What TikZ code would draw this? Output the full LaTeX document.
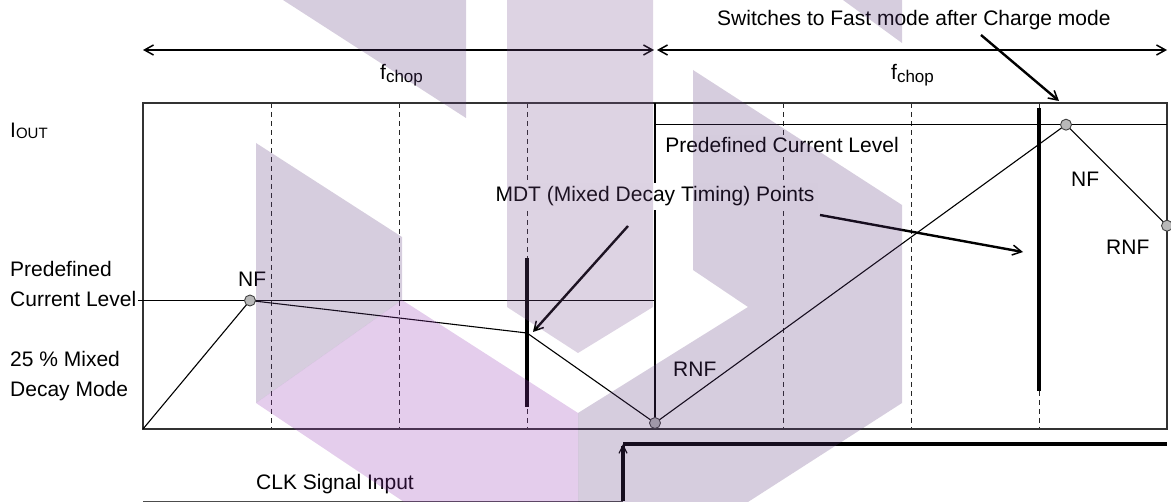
\documentclass[tikz,border=0pt]{standalone}
\usepackage{fontspec}
\setmainfont{Liberation Sans}
\usetikzlibrary{arrows.meta}
\definecolor{wmgrey}{RGB}{91,55,123}
\definecolor{wmpink}{RGB}{147,55,179}
\definecolor{wmlight}{RGB}{119,79,143}
\definecolor{boxgrey}{RGB}{50,50,50}
\newcommand{\lowtxt}[3]{\raisebox{-#3}{\fontsize{#2}{#2}\selectfont #1}}
\begin{document}
\begin{tikzpicture}[x=1pt,y=-1pt,
  every node/.style={font=\fontsize{21}{25}\selectfont, inner sep=0pt},
  lbl/.style={anchor=base west},
  boxline/.style={draw=boxgrey,line width=1.4pt},
  thinline/.style={draw=black,line width=1.1pt},
  dashline/.style={draw=black!85,line width=1pt,dash pattern=on 5pt off 4pt},
  marker/.style={draw=black,line width=4pt},
  curve/.style={draw=black,line width=1.1pt},
  dot/.style={circle,draw=black!75,fill=black!28,line width=0.9pt,minimum size=11pt,inner sep=0pt},
  >={Straight Barb[length=9pt,width=10pt,line width=1.5pt]},
  dimarrow/.style={draw=black,line width=2.4pt,<->},
  callout/.style={draw=black,line width=2.4pt,->},
  clk/.style={draw=black,line width=4pt},
  wm/.style={fill opacity=0.25, draw=none}
]
\useasboundingbox (0,0) rectangle (1171,502);

% dimension arrows
\coordinate (a1) at (143,50);
\coordinate (a2) at (654,50);
\coordinate (a3) at (657,50);
\coordinate (a4) at (1167,50);
\draw[dimarrow] (a1) -- (a2);
\draw[dimarrow] (a3) -- (a4);

% dashed grid
\foreach \xx [count=\i] in {271,399,527,783,911,1039} {
  \coordinate (dT\i) at (\xx,103);
  \coordinate (dB\i) at (\xx,429);
  \draw[dashline] (dT\i) -- (dB\i);
}

% box
\coordinate (bTL) at (143,103);
\coordinate (bBR) at (1167,429);
\draw[boxline] (bTL) rectangle (bBR);
\coordinate (dvT) at (655,103);
\coordinate (dvB) at (655,429);
\draw[thinline] (dvT) -- (dvB);

% predefined current levels
\coordinate (pl1a) at (138,300.5);
\coordinate (pl1b) at (655,300.5);
\draw[thinline] (pl1a) -- (pl1b);
\coordinate (pl2a) at (655,124.7);
\coordinate (pl2b) at (1167,124.7);
\draw[thinline] (pl2a) -- (pl2b);

% MDT markers
\coordinate (m1a) at (527,258);
\coordinate (m1b) at (527,407);
\draw[marker] (m1a) -- (m1b);
\coordinate (m2a) at (1039,108);
\coordinate (m2b) at (1039,391);
\draw[marker] (m2a) -- (m2b);

% current curve
\coordinate (c0) at (143,429);
\coordinate (cNF1) at (250,300.5);
\coordinate (cMDT) at (527,333);
\coordinate (cRNF1) at (655,423);
\coordinate (cPK) at (1066,124.7);
\coordinate (cRNF2) at (1167,225.7);
\draw[curve] (c0) -- (cNF1) -- (cMDT) -- (cRNF1) -- (cPK) -- (cRNF2);
\node[dot] (dNF1) at (cNF1) {};
\node[dot] (dRNF1) at (cRNF1) {};
\node[dot] (dPK) at (cPK) {};
\node[dot] (dRNF2) at (cRNF2) {};

% labels
\node[lbl] (iout) at (10,138) {I\lowtxt{OUT}{15}{1pt}};
\node[lbl] (lp1) at (10,277) {Predefined};
\node[lbl] (lp2) at (10,307) {Current Level};
\node[lbl] (lm1) at (10,367) {25 \% Mixed};
\node[lbl] (lm2) at (10,397) {Decay Mode};
\node[lbl] (fc1) at (380,80) {f\lowtxt{chop}{17}{3pt}};
\node[lbl] (fc2) at (891,80) {f\lowtxt{chop}{17}{3pt}};
\node[lbl] (sw) at (717,26) {Switches to Fast mode after Charge mode};
\node[anchor=base, fill=white, inner sep=4pt] (mdt) at (655,202) {MDT (Mixed Decay Timing) Points};
\node[anchor=base, fill=white, inner sep=3pt] (pcl) at (782,153) {Predefined Current Level};
\node[lbl] (nfa) at (238,287) {NF};
\node[lbl] (nfb) at (1071,187) {NF};
\node[lbl] (rnfa) at (673,377) {RNF};
\node[lbl] (rnfb) at (1106,255) {RNF};
\node[lbl] (clkt) at (256,490) {CLK Signal Input};

% callout arrows
\coordinate (s0) at (981,35);
\coordinate (s1) at (1059,101);
\draw[callout] (s0) -- (s1);
\coordinate (q0) at (628,226);
\coordinate (q1) at (533,332);
\draw[callout] (q0) -- (q1);
\coordinate (r0) at (820,215);
\coordinate (r1) at (1023,252);
\draw[callout] (r0) -- (r1);

% CLK signal
\coordinate (cl0) at (143,501.2);
\coordinate (cl1) at (623,501.2);
\coordinate (ch0) at (623,444);
\coordinate (ch1) at (1167,444);
\draw[draw=black!70,line width=1.2pt] (cl0) -- (cl1);
\draw[clk,-{Straight Barb[length=8pt,width=8pt,line width=1.2pt]}] (cl1) -- (ch0);
\draw[clk] (ch0) -- (ch1);

% watermark overlay
\fill[wm, fill=wmgrey] (283,0) -- (466,0) -- (466,118) -- cycle;
\fill[wm, fill=wmgrey] (843,0) -- (902,0) -- (902,43) -- cycle;
\fill[wm, fill=wmlight] (507,0) -- (653,0) -- (653,307) -- (578,353) -- (507,307) -- cycle;
\fill[wm, fill=wmgrey] (256,143) -- (402,237) -- (402,300) -- (256,403) -- cycle;
\fill[wm, fill=wmpink] (256,403) -- (402,300) -- (578,413) -- (578,502) -- (404,502) -- cycle;
\fill[wm, fill=wmgrey] (693,70) -- (902,205) -- (902,403) -- (748,502) -- (578,502) -- (578,413) -- (748,307) -- (693,270) -- cycle;
\end{tikzpicture}
\end{document}
